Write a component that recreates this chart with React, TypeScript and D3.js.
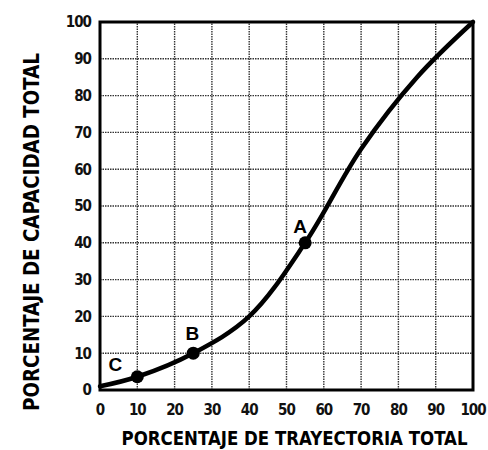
import React, { useEffect, useRef } from 'react';
import * as d3 from 'd3';

// curve: % of travel -> % of capacity
const travel = [0, 10, 25, 40, 55, 70, 85, 100];
const capacity = [1, 3.6, 10, 20, 40, 65.5, 85, 100];

const markLabels = ['C', 'B', 'A'];
const markTravel = [10, 25, 55];
const markCapacity = [3.6, 10, 40];

const ticks = [0, 10, 20, 30, 40, 50, 60, 70, 80, 90, 100];

const xTitle = 'PORCENTAJE DE TRAYECTORIA TOTAL';
const yTitle = 'PORCENTAJE DE CAPACIDAD TOTAL';

const font = '"DejaVu Sans Condensed", "Liberation Sans Narrow", "Liberation Sans", sans-serif';

const App = () => {
  const ref = useRef<SVGSVGElement>(null);

  const width = 488;
  const height = 450;
  const margin = { top: 22, right: 15, bottom: 60, left: 100 };

  useEffect(() => {
    const svg = d3.select(ref.current);
    svg.selectAll('*').remove();

    const x = d3.scaleLinear().domain([0, 100]).range([margin.left, width - margin.right]);
    const y = d3.scaleLinear().domain([0, 100]).range([height - margin.bottom, margin.top]);

    const g = svg.append('g');

    // grid
    g.selectAll('.vgrid')
      .data(ticks.slice(1, -1))
      .enter()
      .append('line')
      .attr('x1', (d) => x(d))
      .attr('x2', (d) => x(d))
      .attr('y1', y(0))
      .attr('y2', y(100))
      .attr('stroke', '#333')
      .attr('stroke-width', 1.4)
      .attr('stroke-dasharray', '1.5 1');

    g.selectAll('.hgrid')
      .data(ticks.slice(1, -1))
      .enter()
      .append('line')
      .attr('x1', x(0))
      .attr('x2', x(100))
      .attr('y1', (d) => y(d))
      .attr('y2', (d) => y(d))
      .attr('stroke', '#333')
      .attr('stroke-width', 1.4)
      .attr('stroke-dasharray', '1.5 1');

    // frame
    g.append('rect')
      .attr('x', x(0))
      .attr('y', y(100))
      .attr('width', x(100) - x(0))
      .attr('height', y(0) - y(100))
      .attr('fill', 'none')
      .attr('stroke', '#000')
      .attr('stroke-width', 3);

    // tick labels
    g.selectAll('.ytick')
      .data(ticks)
      .enter()
      .append('text')
      .attr('x', margin.left - 9)
      .attr('y', (d) => y(d))
      .attr('dy', '0.36em')
      .attr('text-anchor', 'end')
      .style('font-family', font)
      .style('font-weight', 'bold')
      .style('font-size', '15px')
      .style('letter-spacing', '-1px')
      .attr('fill', '#111')
      .text((d) => d);

    g.selectAll('.xtick')
      .data(ticks)
      .enter()
      .append('text')
      .attr('x', (d) => x(d))
      .attr('y', y(0) + 20)
      .attr('dy', '0.36em')
      .attr('text-anchor', 'middle')
      .style('font-family', font)
      .style('font-weight', 'bold')
      .style('font-size', '15px')
      .style('letter-spacing', '-1px')
      .attr('fill', '#111')
      .text((d) => d);

    // curve
    const pts: [number, number][] = travel.map((t, i) => [t, capacity[i]]);
    const line = d3
      .line<[number, number]>()
      .x((d) => x(d[0]))
      .y((d) => y(d[1]))
      .curve(d3.curveCatmullRom.alpha(0.5));

    g.append('path')
      .datum(pts)
      .attr('d', line)
      .attr('fill', 'none')
      .attr('stroke', '#000')
      .attr('stroke-width', 4.5)
      .attr('stroke-linecap', 'round');

    // marked points
    const offsets: { [k: string]: [number, number] } = { C: [-22, -13], B: [-1, -20], A: [-5, -17] };
    markLabels.forEach((lab, i) => {
      const cx = x(markTravel[i]);
      const cy = y(markCapacity[i]);
      g.append('circle').attr('cx', cx).attr('cy', cy).attr('r', 6.5).attr('fill', '#000');
      g.append('text')
        .attr('x', cx + offsets[lab][0])
        .attr('y', cy + offsets[lab][1])
        .attr('dy', '0.36em')
        .attr('text-anchor', 'middle')
        .style('font-family', '"Liberation Sans", Arial, sans-serif')
        .style('font-weight', 'bold')
        .style('font-size', '19px')
        .attr('fill', '#000')
        .text(lab);
    });

    // axis titles
    svg
      .append('text')
      .attr('x', (x(0) + x(100)) / 2 + 8)
      .attr('y', 445)
      .attr('text-anchor', 'middle')
      .attr('textLength', 346)
      .attr('lengthAdjust', 'spacingAndGlyphs')
      .style('font-family', font)
      .style('font-weight', 'bold')
      .style('font-size', '19px')
      .attr('fill', '#000')
      .text(xTitle);

    svg
      .append('text')
      .attr('transform', `translate(39, ${(52 + 412) / 2}) rotate(-90)`)
      .attr('text-anchor', 'middle')
      .attr('textLength', 358)
      .attr('lengthAdjust', 'spacingAndGlyphs')
      .style('font-family', font)
      .style('font-weight', 'bold')
      .style('font-size', '21px')
      .attr('fill', '#000')
      .text(yTitle);
  }, []);

  return (
    <svg
      ref={ref}
      width={width}
      height={height}
      style={{ position: 'absolute', left: 0, top: 0, background: '#fff' }}
    />
  );
};

export default App;
